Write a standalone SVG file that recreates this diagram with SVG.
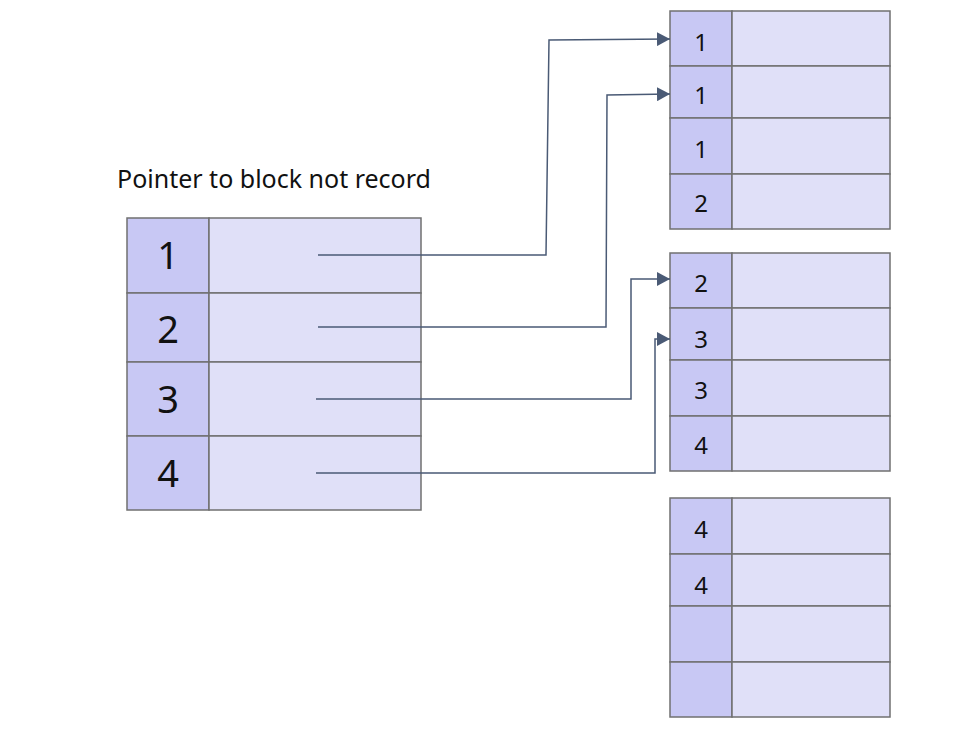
<svg xmlns="http://www.w3.org/2000/svg" width="980" height="735" viewBox="0 0 980 735">
<defs>
<style>
.k{fill:#c8c8f4;stroke:#707070;stroke-width:1.5}
.v{fill:#e0e0f8;stroke:#707070;stroke-width:1.5}
.tb{font-family:"Noto Sans","Open Sans",sans-serif;font-size:38px;fill:#111;text-anchor:middle}
.ts{font-family:"Noto Sans","Open Sans",sans-serif;font-size:24px;fill:#111;text-anchor:middle}
.c{fill:none;stroke:#4a5a75;stroke-width:1.5}
</style>
<marker id="ah" markerUnits="userSpaceOnUse" markerWidth="14" markerHeight="14" refX="13" refY="7" orient="auto">
<path d="M0,0 L13,7 L0,14 Z" fill="#4a5a75"/>
</marker>
</defs>
<rect width="980" height="735" fill="#fff"/>
<text x="117" y="188" font-family="Noto Sans, Open Sans, sans-serif" font-size="25" fill="#111">Pointer to block not record</text>
<g id="index">
<rect class="k" x="127" y="218" width="82" height="75"/><rect class="v" x="209" y="218" width="212" height="75"/>
<rect class="k" x="127" y="293" width="82" height="69"/><rect class="v" x="209" y="293" width="212" height="69"/>
<rect class="k" x="127" y="362" width="82" height="74"/><rect class="v" x="209" y="362" width="212" height="74"/>
<rect class="k" x="127" y="436" width="82" height="74"/><rect class="v" x="209" y="436" width="212" height="74"/>
<text class="tb" x="168" y="269">1</text>
<text class="tb" x="168" y="343">2</text>
<text class="tb" x="168" y="413">3</text>
<text class="tb" x="168" y="487">4</text>
</g>
<g id="block1">
<rect class="k" x="670" y="11" width="62" height="55"/><rect class="v" x="732" y="11" width="158" height="55"/>
<rect class="k" x="670" y="66" width="62" height="52"/><rect class="v" x="732" y="66" width="158" height="52"/>
<rect class="k" x="670" y="118" width="62" height="56"/><rect class="v" x="732" y="118" width="158" height="56"/>
<rect class="k" x="670" y="174" width="62" height="55"/><rect class="v" x="732" y="174" width="158" height="55"/>
<text class="ts" x="701" y="51">1</text>
<text class="ts" x="701" y="104">1</text>
<text class="ts" x="701" y="158">1</text>
<text class="ts" x="701" y="212">2</text>
</g>
<g id="block2">
<rect class="k" x="670" y="253" width="62" height="55"/><rect class="v" x="732" y="253" width="158" height="55"/>
<rect class="k" x="670" y="308" width="62" height="52"/><rect class="v" x="732" y="308" width="158" height="52"/>
<rect class="k" x="670" y="360" width="62" height="56"/><rect class="v" x="732" y="360" width="158" height="56"/>
<rect class="k" x="670" y="416" width="62" height="55"/><rect class="v" x="732" y="416" width="158" height="55"/>
<text class="ts" x="701" y="292">2</text>
<text class="ts" x="701" y="348">3</text>
<text class="ts" x="701" y="399">3</text>
<text class="ts" x="701" y="454">4</text>
</g>
<g id="block3">
<rect class="k" x="670" y="498" width="62" height="56"/><rect class="v" x="732" y="498" width="158" height="56"/>
<rect class="k" x="670" y="554" width="62" height="52"/><rect class="v" x="732" y="554" width="158" height="52"/>
<rect class="k" x="670" y="606" width="62" height="56"/><rect class="v" x="732" y="606" width="158" height="56"/>
<rect class="k" x="670" y="662" width="62" height="55"/><rect class="v" x="732" y="662" width="158" height="55"/>
<text class="ts" x="701" y="538">4</text>
<text class="ts" x="701" y="594">4</text>
</g>
<g id="connectors">
<polyline class="c" points="318,255 546,255 549,40 670,39" marker-end="url(#ah)"/>
<polyline class="c" points="318,327 606,327 607,95 670,94" marker-end="url(#ah)"/>
<polyline class="c" points="316,399 631,399 631,279 670,279" marker-end="url(#ah)"/>
<polyline class="c" points="316,473 655,473 655,339 670,339" marker-end="url(#ah)"/>
</g>
</svg>
